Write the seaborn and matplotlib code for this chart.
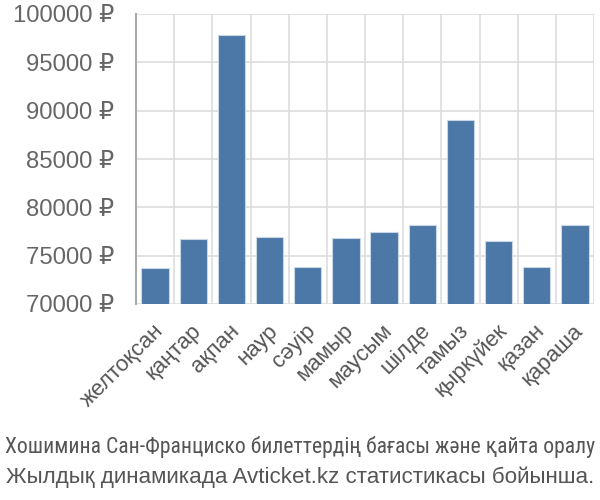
import matplotlib
matplotlib.use("Agg")
import matplotlib.pyplot as plt
import matplotlib.transforms as mtransforms
import seaborn as sns
import pandas as pd
import numpy as np
from matplotlib import font_manager

months = ["желтоқсан", "қаңтар", "ақпан", "наур", "сәуір", "мамыр",
          "маусым", "шілде", "тамыз", "қыркүйек", "қазан", "қараша"]
prices = [73700, 76700, 97800, 76900, 73800, 76800,
          77500, 78200, 89000, 76500, 73800, 78200]
yticks = [70000, 75000, 80000, 85000, 90000, 95000, 100000]
title_lines = ["Хошимина Сан-Франциско билеттердің бағасы және қайта оралу",
               "Жылдық динамикада Avticket.kz статистикасы бойынша."]

sns.set_theme(style="white")
names = {f.name for f in font_manager.fontManager.ttflist}
narrow = "Liberation Sans"
for cand in ["Liberation Sans Narrow", "Arial Narrow", "Roboto Condensed", "PT Sans Narrow"]:
    if cand in names:
        narrow = cand
        break
plt.rcParams["font.family"] = ["Liberation Sans", "DejaVu Sans"]

df = pd.DataFrame({"month": months, "price": prices})

fig = plt.figure(figsize=(6, 5), dpi=100)
ax = fig.add_axes([136/600, 1-304/500, (594-136)/600, (304-14)/500])
sns.barplot(data=df, x="month", y="price", color="#4C78A8", saturation=1,
            width=0.72, edgecolor="#c9d6e6", linewidth=0.8, ax=ax, zorder=3)
ax.set_ylim(70000, 100000)
ax.set_xlim(-0.5, len(months) - 0.5)
ax.set_yticks(yticks)
ax.set_yticklabels([f"{v} ₽" for v in yticks])
ax.set_xlabel("")
ax.set_ylabel("")

ax.set_xticks(np.arange(-0.5, len(months), 1.0), minor=True)
ax.grid(True, which="minor", axis="x", color="#dddddd", linewidth=1.2, zorder=0)
ax.grid(True, which="major", axis="y", color="#dddddd", linewidth=1.2, zorder=0)
ax.grid(False, which="major", axis="x")
ax.tick_params(axis="x", which="minor", length=13.7, color="#dddddd", width=1.2)
ax.tick_params(axis="x", which="major", length=0, pad=17)
ax.tick_params(axis="y", which="major", length=13.7, color="#dddddd", width=1.2,
               labelsize=17.2, labelcolor="#666666", pad=2)
for sp in ["top", "right", "bottom"]:
    ax.spines[sp].set_visible(False)
ax.spines["left"].set_color("#aaaaaa")
ax.spines["left"].set_linewidth(1.5)

ax.set_xticklabels(months, rotation=45, ha="right", va="center",
                   rotation_mode="anchor", fontsize=16, color="#555555")
offset = mtransforms.ScaledTranslation(5/100, 0, fig.dpi_scale_trans)
for lbl in ax.get_xticklabels():
    lbl.set_transform(lbl.get_transform() + offset)

fig.text(0.5, 1-453/500, title_lines[0], ha="center", va="baseline",
         fontsize=15.6, color="#555555", family=[narrow, "DejaVu Sans"])
fig.text(0.5, 1-483/500, title_lines[1], ha="center", va="baseline",
         fontsize=16.1, color="#555555", family=["Liberation Sans", "DejaVu Sans"])

fig.savefig("out.png", dpi=100)
